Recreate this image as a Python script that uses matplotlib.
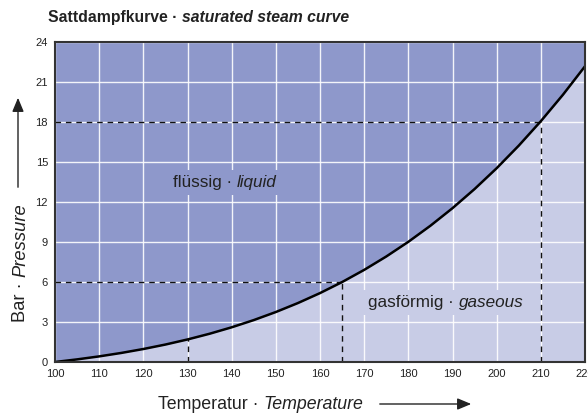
import matplotlib
matplotlib.use("Agg")
import matplotlib.pyplot as plt

plt.rcParams['font.family'] = ['Liberation Sans', 'DejaVu Sans']

# saturated steam curve, gauge pressure (bar) over temperature (deg C)
temps = [100, 105, 110, 115, 120, 125, 130, 135, 140, 145, 150, 155, 160,
         165, 170, 175, 180, 185, 190, 195, 200, 205, 210, 215, 220]
pressure = [0.0, 0.196, 0.421, 0.679, 0.974, 1.309, 1.690, 2.119, 2.602, 3.143,
            3.748, 4.421, 5.168, 5.995, 6.908, 7.912, 9.013, 10.220, 11.537,
            12.973, 14.534, 16.227, 18.061, 20.042, 22.180]

# reference points marked with dashed lines
ref_temps = [130, 165, 210]
ref_press = [1.69, 6.0, 18.0]

x_ticks = list(range(100, 221, 10))
y_ticks = list(range(0, 25, 3))

dark = '#8e98cb'
light = '#c8cce6'

W, H = 588, 415
fig = plt.figure(figsize=(W / 100, H / 100), dpi=100)
ax = fig.add_axes([55 / W, 1 - 362 / H, 530 / W, 320 / H])
ax.set_facecolor(light)
ax.fill_between(temps, pressure, 24, color=dark, lw=0, zorder=1)
ax.set_xlim(100, 220)
ax.set_ylim(0, 24)
ax.set_xticks(x_ticks)
ax.set_yticks(y_ticks)
ax.tick_params(length=0, labelsize=8, colors='#222222', pad=5)
ax.grid(True, color='white', lw=1, alpha=0.9, zorder=2)
ax.set_axisbelow(False)
for s in ax.spines.values():
    s.set_color('#333333')
    s.set_linewidth(1.5)
    s.set_zorder(6)

# dashed guide lines
for t, p in zip(ref_temps, ref_press):
    ax.plot([t, t], [0, p], color='#111111', lw=1, ls=(0, (4, 3.5)), zorder=3)
    if p > 3:
        ax.plot([100, t], [p, p], color='#111111', lw=1, ls=(0, (4, 3.5)), zorder=3)

ax.plot(temps, pressure, color='black', lw=1.8, zorder=4)

renderer = fig.canvas.get_renderer()


def joined(x, y, parts, size, rotation=0, color='#222222', bbox=None):
    # draw text pieces one after another, starting at pixel position (x, y)
    for s, weight, style in parts:
        t = fig.text(x / W, y / H, s, fontsize=size, fontweight=weight, fontstyle=style,
                     rotation=rotation, color=color, ha='left', va='baseline',
                     rotation_mode='anchor', bbox=bbox, zorder=5)
        ext = t.get_window_extent(renderer)
        if rotation == 0:
            x += ext.width
        else:
            y += ext.height


joined(48, H - 22, [('Sattdampfkurve · ', 'bold', 'normal'),
                    ('saturated steam curve', 'bold', 'italic')], 11.3)
joined(158, H - 409, [('Temperatur · ', 'normal', 'normal'),
                      ('Temperature', 'normal', 'italic')], 12.8)
joined(25, H - 322, [('Bar · ', 'normal', 'normal'),
                     ('Pressure', 'normal', 'italic')], 13.2, rotation=90)

box_d = dict(boxstyle='square,pad=0.3', fc=dark, ec='none')
box_l = dict(boxstyle='square,pad=0.3', fc=light, ec='none')
joined(173, H - 187, [('flüssig · ', 'normal', 'normal'),
                      ('liquid', 'normal', 'italic')], 12.3, bbox=box_d)
joined(368, H - 307, [('gasförmig · ', 'normal', 'normal'),
                      ('gaseous', 'normal', 'italic')], 12.3, bbox=box_l)

# arrows next to the axis titles
fig.add_artist(matplotlib.patches.FancyArrowPatch(
    (377 / W, 1 - 404 / H), (474 / W, 1 - 404 / H), transform=fig.transFigure,
    arrowstyle='-|>,head_length=0.6,head_width=0.25', mutation_scale=14,
    color='#222222', lw=1))
fig.add_artist(matplotlib.patches.FancyArrowPatch(
    (18 / W, 1 - 190 / H), (18 / W, 1 - 95 / H), transform=fig.transFigure,
    arrowstyle='-|>,head_length=0.6,head_width=0.25', mutation_scale=14,
    color='#222222', lw=1))

fig.savefig('out.png', dpi=100)
